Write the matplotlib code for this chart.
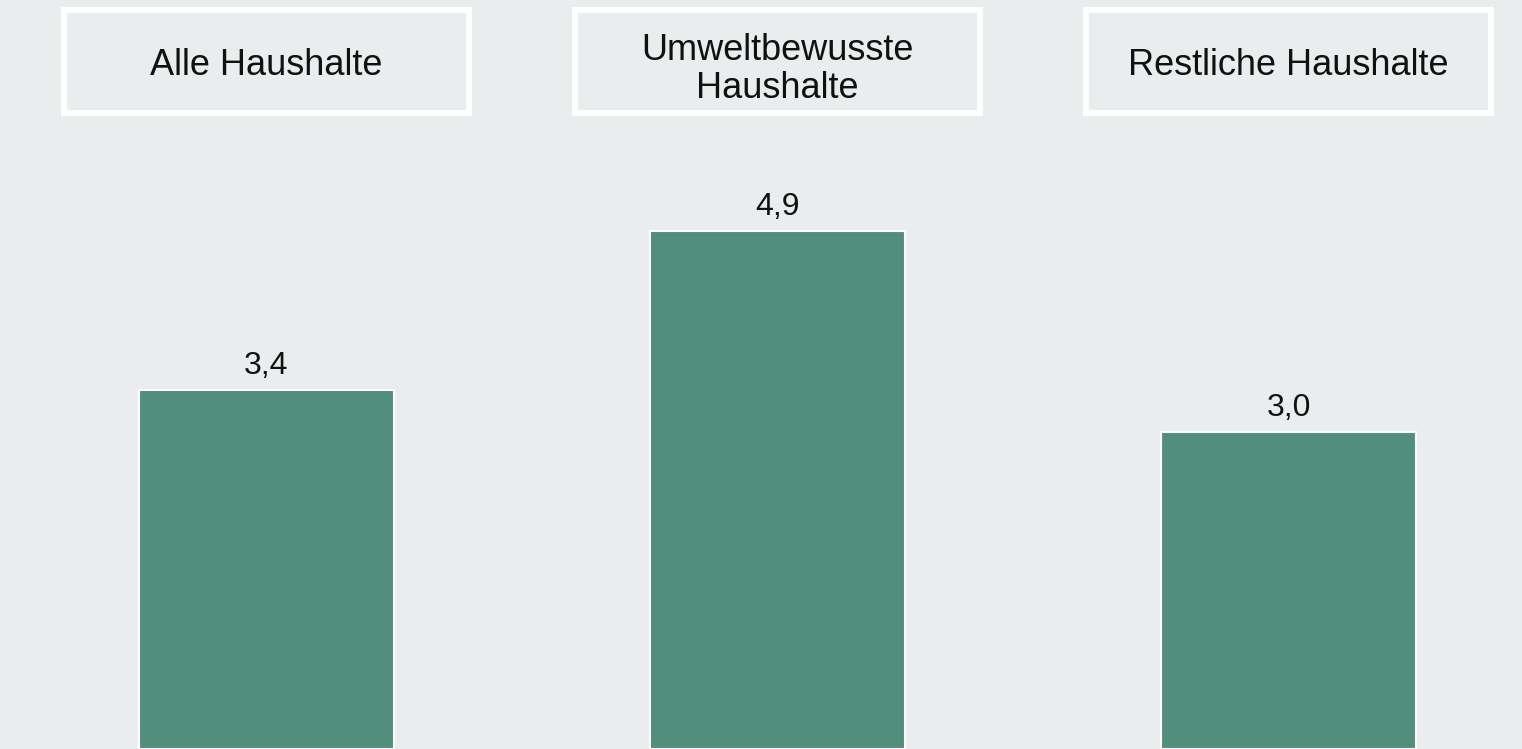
import matplotlib
matplotlib.use('Agg')
from matplotlib import pyplot as plt
from matplotlib.patches import Rectangle

groups = ['Alle Haushalte', 'Umweltbewusste\nHaushalte', 'Restliche Haushalte']
values = [3.4, 4.9, 3.0]

bg = '#e9edee'
green = '#518f7c'
txt = '#111111'

fig = plt.figure(figsize=(15.22, 7.49), dpi=100)
fig.patch.set_facecolor(bg)
ax = fig.add_axes([0, 0, 1, 1])
ax.set_facecolor(bg)

xs = list(range(len(values)))
bars = ax.bar(xs, values, width=0.5, color=green, edgecolor='white', linewidth=1.5)

for x, v in zip(xs, values):
    ax.annotate(f'{v:.1f}'.replace('.', ','), (x, v), xytext=(0, 11.5),
                textcoords='offset points', ha='center', va='baseline',
                fontsize=23, color=txt, family='Liberation Sans')

# header boxes
for x, g in zip(xs, groups):
    ax.add_patch(Rectangle((x - 0.397, 6.025), 0.794, 0.975, facecolor='none',
                           edgecolor='white', linewidth=4.3))
    lines = g.split('\n')
    if len(lines) == 1:
        ax.text(x, 6.38, g, ha='center', va='baseline', fontsize=26,
                color=txt, family='Liberation Sans')
    else:
        ax.text(x, 6.52, lines[0], ha='center', va='baseline', fontsize=26,
                color=txt, family='Liberation Sans')
        ax.text(x, 6.16, lines[1], ha='center', va='baseline', fontsize=26,
                color=txt, family='Liberation Sans')

ax.set_xlim(-0.5215, 2.457)
ax.set_ylim(0, 7.09)
ax.axis('off')

fig.savefig('out.png', dpi=100, facecolor=bg)
